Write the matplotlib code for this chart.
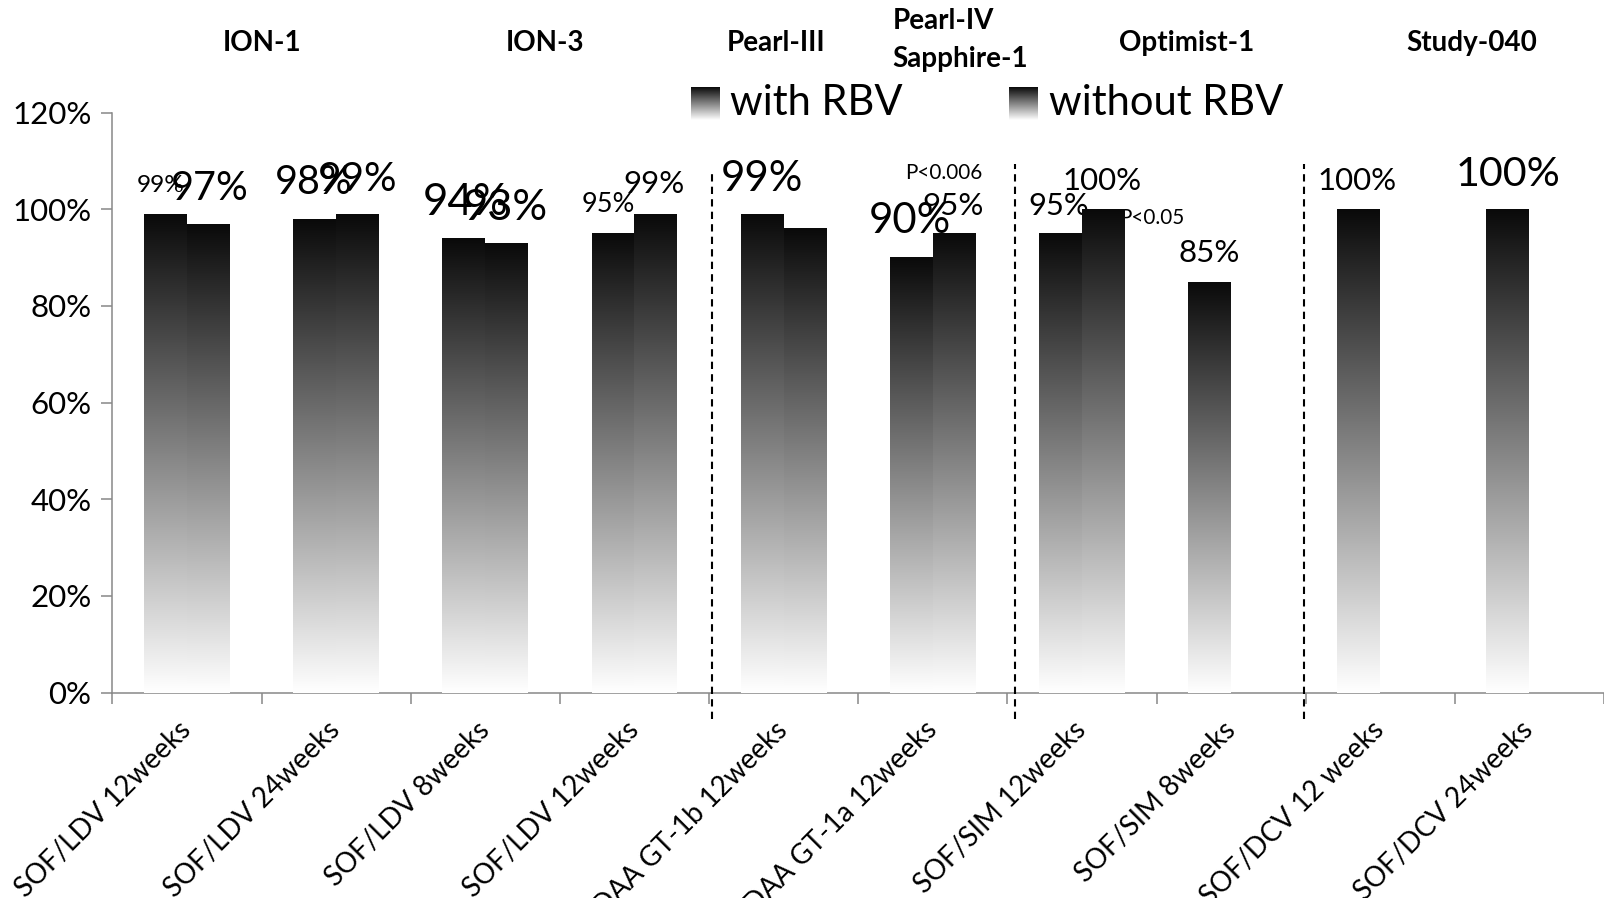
import numpy as np
import matplotlib.pyplot as plt
from matplotlib.colors import LinearSegmentedColormap
from matplotlib.transforms import ScaledTranslation

plt.rcParams["font.family"] = ["Lato", "DejaVu Sans"]

# SVR rates per regimen (left bar = with RBV, right bar = without RBV)
regimens = ["SOF/LDV 12weeks", "SOF/LDV 24weeks", "SOF/LDV 8weeks", "SOF/LDV 12weeks",
            "3DAA GT-1b 12weeks", "3DAA GT-1a 12weeks", "SOF/SIM 12weeks",
            "SOF/SIM 8weeks", "SOF/DCV 12 weeks", "SOF/DCV 24weeks"]
with_rbv = [99, 98, 94, 95, 99, 90, 95, 85, 100, 100]
without_rbv = [97, 99, 93, 99, 96, 95, 100, np.nan, np.nan, np.nan]
studies = ["ION-1", "ION-3", "Pearl-III", "Pearl-IV", "Sapphire-1", "Optimist-1", "Study-040"]
p_values = ["P<0.006", "P<0.05"]
y_ticks = [0, 20, 40, 60, 80, 100, 120]

# label style: (dx, dy, size factor); None = unlabelled
style_with = [(-0.03, 6.0, 0.78), (-0.01, 7.6, 1.27), (0.01, 7.4, 1.40), (-0.03, 6.0, 0.87),
              (0.0, 7.2, 1.34), (-0.01, 7.6, 1.34), (-0.01, 5.7, 0.99), (0.0, 6.0, 1.0),
              (-0.01, 5.8, 1.0), (0.0, 7.1, 1.32)]
style_without = [(0.01, 7.3, 1.27), (0.0, 7.2, 1.30), (-0.01, 7.3, 1.39), (-0.01, 6.2, 1.0),
                 None, (-0.01, 5.7, 1.0), (-0.01, 5.8, 1.0), None, None, None]
study_pos = [(0.50, 134.4, "center"), (2.40, 134.4, "center"), (3.95, 134.4, "center"),
             (4.73, 139.0, "left"), (4.73, 131.1, "left"), (6.70, 134.4, "center"),
             (8.61, 134.4, "center")]
p_pos = [(5.075, 107.5, "center"), (6.25, 98.2, "left")]
dividers = [(3.52, 107.3), (5.55, 109.4), (7.49, 109.4)]

base = 22.5
width = 0.288
fade = LinearSegmentedColormap.from_list("fade", ["#ffffff", "#0a0a0a"])
grad = np.linspace(0, 1, 256).reshape(-1, 1)

fig = plt.figure(figsize=(16.04, 8.98), dpi=100)
ax = fig.add_axes([0.0701, 0.2288, 0.9299, 0.6459])


def gradient_rect(x0, x1, y0, y1, clip=True):
    im = ax.imshow(grad, cmap=fade, extent=(x0, x1, y0, y1), origin="lower",
                   aspect="auto", interpolation="bilinear", zorder=3)
    im.set_clip_on(clip)


x = np.arange(len(regimens))
for i in x:
    for xc, v, st in [(i - width / 2, with_rbv[i], style_with[i]),
                      (i + width / 2, without_rbv[i], style_without[i])]:
        if np.isnan(v):
            continue
        gradient_rect(xc - width / 2, xc + width / 2, 0, v)
        if st is not None:
            dx, dy, f = st
            ax.text(xc + dx, v + dy, f"{v:.0f}%", ha="center", va="center",
                    fontsize=base * f, zorder=2)

for (px, py, ha), s in zip(p_pos, p_values):
    ax.text(px, py, s, ha=ha, va="center", fontsize=base * 0.66, zorder=2)

for (sx, sy, ha), s in zip(study_pos, studies):
    ax.text(sx, sy, s, ha=ha, va="center", fontsize=20, fontweight="bold", clip_on=False)

for dx, top in dividers:
    ax.plot([dx, dx], [-5.5, top], color="black", lw=1.5, ls=(0, (3.5, 2.5)),
            clip_on=False, zorder=4)

# legend
gradient_rect(3.38, 3.573, 118.5, 125.3, clip=False)
ax.text(3.64, 122.0, "with RBV", ha="left", va="center", fontsize=30, clip_on=False)
gradient_rect(5.509, 5.70, 118.5, 125.3, clip=False)
ax.text(5.776, 122.0, "without RBV", ha="left", va="center", fontsize=30, clip_on=False)

ax.set_xlim(-0.5, len(regimens) - 0.5)
ax.set_ylim(0, 120)
ax.set_yticks(y_ticks)
ax.set_yticklabels([f"{t}%" for t in y_ticks], fontsize=base)
ax.set_xticks(x)
ax.set_xticklabels(regimens, rotation=45, ha="right", va="center",
                   rotation_mode="anchor", fontsize=20)
shift = ScaledTranslation(4 / 72, 0, fig.dpi_scale_trans)
for lab in ax.get_xticklabels():
    lab.set_transform(lab.get_transform() + shift)
ax.set_xticks(np.arange(-0.5, len(regimens)), minor=True)
ax.tick_params(axis="x", which="major", length=0, pad=24)
ax.tick_params(axis="x", which="minor", length=8, color="#888888", width=1.1)
ax.tick_params(axis="y", length=8, color="#888888", width=1.1, pad=7)
for side in ["top", "right"]:
    ax.spines[side].set_visible(False)
for side in ["left", "bottom"]:
    ax.spines[side].set_color("#888888")
    ax.spines[side].set_linewidth(1.1)
ax.patch.set_visible(False)

fig.savefig("out.png", dpi=100)
